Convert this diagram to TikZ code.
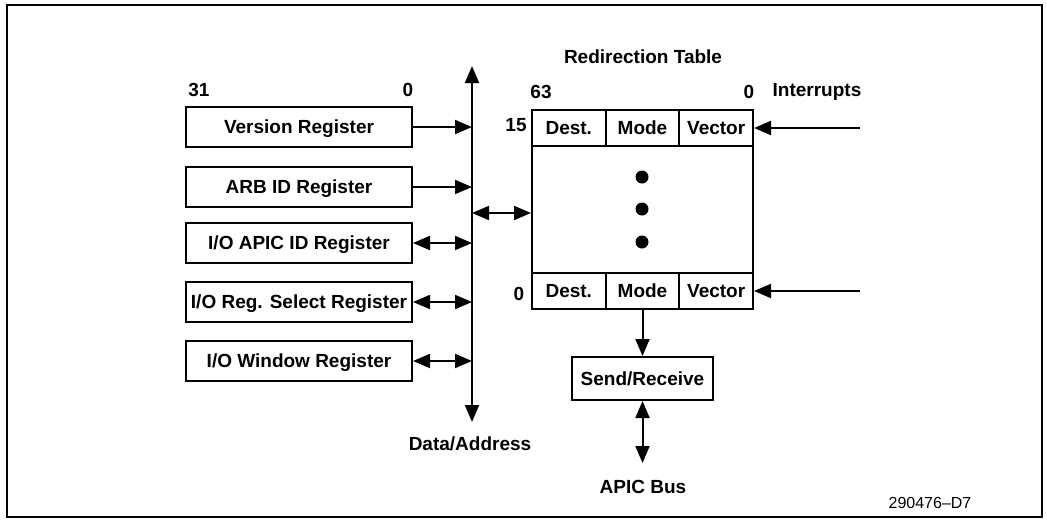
\documentclass[tikz,border=0pt]{standalone}
\usepackage{fontspec}
\setmainfont{Liberation Sans}
\usetikzlibrary{arrows.meta}

\begin{document}
\begin{tikzpicture}
    [
        x=1pt, y=-1pt,
        >={Triangle[length=17pt,width=14pt]},
        register/.style={rectangle, draw, line width=2pt, minimum width=226pt, minimum height=40pt, inner sep=0pt, text height=13.6pt, text depth=0pt, font=\bfseries\fontsize{19}{21}\selectfont},
        entry/.style={rectangle, draw, line width=2pt, minimum width=73.67pt, minimum height=36pt, inner sep=0pt, text height=13.6pt, text depth=0pt, font=\bfseries\fontsize{19}{21}\selectfont},
        caption/.style={inner sep=0pt, font=\bfseries\fontsize{19}{21}\selectfont},
        dot/.style={circle, fill, minimum size=13pt, inner sep=0pt},
        wire/.style={line width=2pt},
    ]
    \useasboundingbox (0,0) rectangle (1047,520);
    \draw [line width=2pt] (7,5) rectangle (1042,517);

    % registers on the left
    \node (ver) at (299,127) [register] {Version Register};
    \node (arb) at (299,187) [register] {ARB ID Register};
    \node (apicid) at (299,243) [register] {I/O APIC ID Register};
    \node (regsel) at (299,302) [register] {I/O Reg. Select Register};
    \node (window) at (299,361) [register] {I/O Window Register};
    \node (hibit) at (199,90) [caption] {31};
    \node (lobit) at (408,90) [caption] {0};

    % data/address bus
    \coordinate (bustop) at (472,66);
    \coordinate (busbot) at (472,422);
    \coordinate (busmid) at (472,213);
    \node (buslabel) at (470,444) [caption] {Data/Address};
    \draw [wire, <->] (bustop) -- (busbot);
    \draw [wire, ->] (ver.east) -- (ver.east -| bustop);
    \draw [wire, ->] (arb.east) -- (arb.east -| bustop);
    \draw [wire, <->] (apicid.east) -- (apicid.east -| bustop);
    \draw [wire, <->] (regsel.east) -- (regsel.east -| bustop);
    \draw [wire, <->] (window.east) -- (window.east -| bustop);

    % redirection table
    \node (title) at (643,57) [caption] {Redirection Table};
    \node (body) at (642.5,209.5) [rectangle, draw, line width=2pt, minimum width=221pt, minimum height=127pt, inner sep=0pt] {};
    \node (desthi) at (568.8,128) [entry] {Dest.};
    \node (modehi) at (642.5,128) [entry] {Mode};
    \node (vechi) at (716.2,128) [entry] {Vector};
    \node (destlo) at (568.8,291) [entry] {Dest.};
    \node (modelo) at (642.5,291) [entry] {Mode};
    \node (veclo) at (716.2,291) [entry] {Vector};
    \node (d1) at (642,177) [dot] {};
    \node (d2) at (642,209) [dot] {};
    \node (d3) at (642,242) [dot] {};
    \node (msb) at (541,92) [caption] {63};
    \node (lsb) at (749,92) [caption] {0};
    \node (hirow) at (516,125) [caption] {15};
    \node (lorow) at (519,294) [caption] {0};
    \draw [wire, <->] (busmid) -- (busmid -| body.west);

    % interrupts
    \node (irq) at (817,92) [caption] {Interrupts};
    \coordinate (irqhi) at (860,128);
    \coordinate (irqlo) at (860,291);
    \draw [wire, ->] (irqhi) -- (vechi.east);
    \draw [wire, ->] (irqlo) -- (veclo.east);

    % send/receive and APIC bus
    \node (send) at (642.5,378.5) [register, minimum width=141pt, minimum height=43pt] {Send/Receive};
    \coordinate (apicend) at (642.5,463);
    \node (apicbus) at (643,487) [caption] {APIC Bus};
    \draw [wire, ->] (modelo.south) -- (send.north);
    \draw [wire, <->] (send.south) -- (apicend);

    \node (fig) at (930,503) [inner sep=0pt, font=\fontsize{16}{18}\selectfont] {290476--D7};
\end{tikzpicture}
\end{document}
